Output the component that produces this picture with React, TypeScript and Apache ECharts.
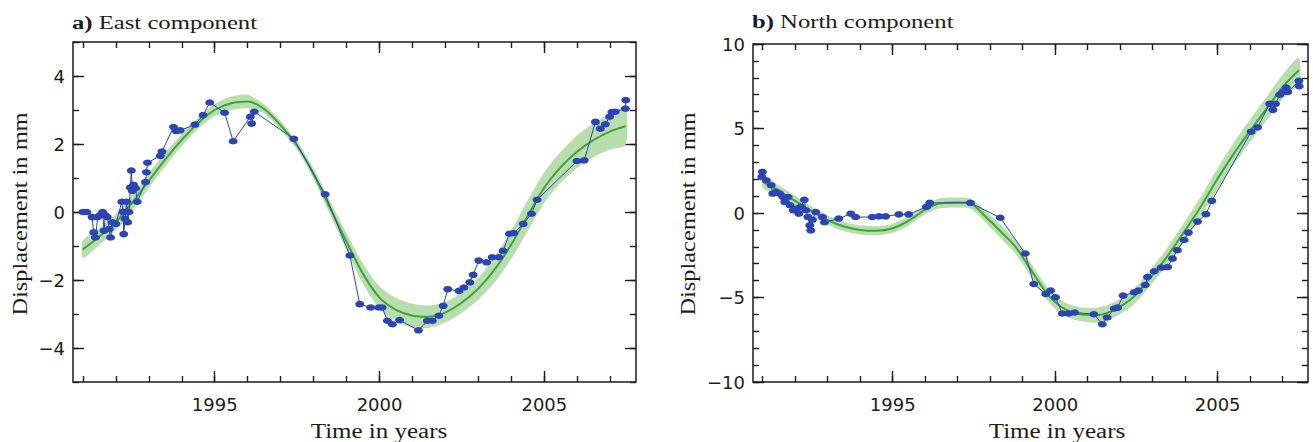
import React, { useEffect, useRef } from 'react';
import * as echarts from 'echarts';

// ---------- data ----------
const eastObsYears = [
  1991.0, 1991.12, 1991.28, 1991.33, 1991.38, 1991.45, 1991.52, 1991.6, 1991.64, 1991.68,
  1991.74, 1991.8, 1991.84, 1991.9, 1992.0, 1992.18, 1992.22, 1992.24, 1992.28, 1992.33,
  1992.36, 1992.4, 1992.44, 1992.47, 1992.5, 1992.54, 1992.6, 1992.65, 1992.9, 1992.93,
  1992.96, 1993.35, 1993.4, 1993.75, 1993.83, 1993.95, 1994.4, 1994.65, 1994.85, 1995.3,
  1995.56, 1996.08, 1996.12, 1996.2, 1997.4, 1998.35, 1999.1, 1999.4, 1999.73, 1999.98,
  2000.08, 2000.24, 2000.39, 2000.61, 2001.18, 2001.45, 2001.6, 2001.8, 2001.93, 2002.07,
  2002.41, 2002.56, 2002.74, 2002.84, 2003.01, 2003.25, 2003.42, 2003.62, 2003.75, 2003.94,
  2004.07, 2004.36, 2004.61, 2004.78, 2005.99, 2006.21, 2006.55, 2006.7, 2006.85, 2006.98,
  2007.05, 2007.15, 2007.46, 2007.47,
];
const eastObsValues = [
  0.0, 0.0, -0.15, -0.6, -0.75, -0.15, -0.1, 0.0, -0.55, -0.1,
  -0.15, -0.5, -0.75, -0.3, -0.35, 0.3, 0.0, -0.65, -0.2, 0.3,
  -0.3, 0.0, 0.72, 1.22, 0.62, 0.8, 0.7, 0.3, 0.88, 1.17,
  1.45, 1.65, 1.78, 2.5, 2.38, 2.4, 2.57, 2.85, 3.22, 2.92,
  2.08, 2.8, 2.6, 2.95, 2.15, 0.52, -1.28, -2.71, -2.81, -2.81,
  -2.81, -3.2, -3.3, -3.18, -3.48, -3.2, -3.2, -3.05, -2.76, -2.27,
  -2.32, -2.22, -2.07, -1.85, -1.43, -1.48, -1.33, -1.33, -1.14, -0.64,
  -0.62, -0.35, -0.05, 0.36, 1.5, 1.52, 2.65, 2.45, 2.58, 2.8,
  2.94, 2.95, 3.04, 3.29,
];
const eastFitYears = [
  1991.0, 1991.5, 1992.0, 1992.5, 1993.0, 1993.5, 1994.0, 1994.5, 1995.0, 1995.5,
  1996.0, 1996.5, 1997.0, 1997.5, 1998.0, 1998.5, 1999.0, 1999.5, 2000.0, 2000.5,
  2001.0, 2001.5, 2002.0, 2002.5, 2003.0, 2003.5, 2004.0, 2004.5, 2005.0, 2005.5,
  2006.0, 2006.5, 2007.0, 2007.46,
];
const eastFitValues = [
  -1.1, -0.72, -0.3, 0.28, 0.92, 1.55, 2.12, 2.62, 3.0, 3.2,
  3.25, 3.03, 2.55, 1.95, 1.12, 0.12, -0.88, -1.82, -2.52, -2.88,
  -3.05, -3.08, -2.95, -2.66, -2.25, -1.68, -0.95, -0.1, 0.72, 1.32,
  1.78, 2.12, 2.37, 2.52,
];
const eastFitHalfWidth = [
  0.26, 0.25, 0.24, 0.23, 0.22, 0.2, 0.18, 0.17, 0.18, 0.2,
  0.2, 0.13, 0.12, 0.12, 0.15, 0.2, 0.25, 0.3, 0.33, 0.35,
  0.35, 0.33, 0.3, 0.3, 0.32, 0.38, 0.42, 0.45, 0.45, 0.46,
  0.48, 0.5, 0.53, 0.55,
];

const northObsYears = [
  1990.97, 1990.99, 1991.11, 1991.26, 1991.31, 1991.42, 1991.52, 1991.62, 1991.68, 1991.78,
  1991.84, 1991.94, 1992.05, 1992.11, 1992.17, 1992.28, 1992.33, 1992.39, 1992.45, 1992.48,
  1992.53, 1992.63, 1992.84, 1992.9, 1993.34, 1993.71, 1993.86, 1994.37, 1994.58, 1994.78,
  1995.19, 1995.49, 1996.04, 1996.14, 1997.39, 1998.31, 1999.08, 1999.34, 1999.71, 1999.86,
  2000.01, 2000.22, 2000.42, 2000.6, 2001.19, 2001.45, 2001.6, 2001.82, 2001.92, 2002.09,
  2002.43, 2002.56, 2002.77, 2002.84, 2003.05, 2003.26, 2003.46, 2003.61, 2003.76, 2003.97,
  2004.1, 2004.38, 2004.64, 2004.82, 2006.03, 2006.23, 2006.6, 2006.7, 2006.78, 2006.91,
  2007.01, 2007.11, 2007.16, 2007.5, 2007.51,
];
const northObsValues = [
  2.14, 2.43, 1.94, 1.64, 1.15, 1.25, 1.15, 0.95, 0.65, 0.95,
  0.46, 0.16, 0.26, -0.04, 0.36, 0.78, 0.16, -0.24, -0.73, -1.03,
  -0.4, 0.06, -0.24, -0.55, -0.33, -0.04, -0.24, -0.24, -0.2, -0.2,
  -0.08, -0.08, 0.36, 0.6, 0.6, -0.28, -2.4, -4.2, -4.79, -4.59,
  -4.99, -5.95, -5.95, -5.89, -5.99, -6.58, -6.18, -5.65, -5.6, -4.89,
  -4.69, -4.59, -4.26, -3.79, -3.45, -3.23, -3.2, -2.7, -2.2, -1.6,
  -1.16, -0.51, -0.07, 0.72, 4.81, 5.07, 6.46, 6.1, 6.46, 7.0,
  7.16, 7.42, 7.16, 7.82, 7.5,
];
const northFitYears = [
  1991.0, 1991.5, 1992.0, 1992.5, 1993.0, 1993.5, 1994.0, 1994.5, 1995.0, 1995.5,
  1996.0, 1996.4, 1997.0, 1997.4, 1997.9, 1998.3, 1998.8, 1999.3, 1999.8, 2000.3,
  2000.8, 2001.35, 2001.85, 2002.4, 2002.9, 2003.4, 2003.9, 2004.45, 2004.95, 2005.45,
  2006.0, 2006.5, 2007.0, 2007.5,
];
const northFitValues = [
  1.85, 1.3, 0.72, 0.12, -0.42, -0.8, -1.0, -1.05, -0.9, -0.45,
  0.2, 0.55, 0.62, 0.55, -0.3, -1.05, -2.05, -3.5, -4.89, -5.69,
  -5.99, -6.03, -5.69, -4.99, -3.89, -2.7, -1.31, 0.28, 1.88, 3.38,
  4.87, 6.16, 7.46, 8.45,
];
const northFitHalfWidth = [
  0.35, 0.33, 0.3, 0.28, 0.27, 0.27, 0.27, 0.27, 0.27, 0.27,
  0.28, 0.3, 0.3, 0.3, 0.35, 0.4, 0.4, 0.4, 0.4, 0.4,
  0.42, 0.45, 0.45, 0.45, 0.47, 0.5, 0.55, 0.6, 0.62, 0.65,
  0.68, 0.7, 0.72, 0.75,
];

const xMajorTicks = [1995, 2000, 2005];
const xMinorTicks = [
  1991, 1992, 1993, 1994, 1995, 1996, 1997, 1998, 1999, 2000,
  2001, 2002, 2003, 2004, 2005, 2006, 2007,
];
const eastYMajorTicks = [-4, -2, 0, 2, 4];
const eastYMinorTicks = [-5, -4, -3, -2, -1, 0, 1, 2, 3, 4, 5];
const northYMajorTicks = [-10, -5, 0, 5, 10];
const northYMinorTicks = [
  -10, -9, -8, -7, -6, -5, -4, -3, -2, -1, 0, 1, 2, 3, 4, 5, 6, 7, 8, 9, 10,
];

const panelTitles = ['a)', 'b)'];
const panelNames = ['East component', 'North component'];
const xAxisName = 'Time in years';
const yAxisName = 'Displacement in mm';

// ---------- styles ----------
const X_MIN = 1990.7;
const X_MAX = 2007.78;
const INK = '#1c1c1c';
const BLUE = '#2b44b6';
const GREEN = '#3fa436';
const BAND = '#b9dead';
const SERIF = '"Liberation Serif", "Times New Roman", serif';
const SANS = '"DejaVu Sans", "Liberation Sans", sans-serif';

const zip = (xs: number[], ys: number[]) => xs.map((x, i) => [x, ys[i]]);
const fmtNum = (v: number) => (v < 0 ? '\u2212' + Math.abs(v) : String(v));

function makeXAxes(gridIndex: number) {
  const base = {
    type: 'value',
    gridIndex,
    min: X_MIN,
    max: X_MAX,
    axisLine: { show: false, onZero: false },
    splitLine: { show: false },
  };
  const tickStyle = { color: INK, width: 1.4 };
  return [
    {
      ...base,
      position: 'bottom',
      axisTick: { show: true, inside: true, length: 11, customValues: xMajorTicks, lineStyle: tickStyle },
      axisLabel: {
        show: true,
        customValues: xMajorTicks,
        margin: 13,
        fontFamily: SANS,
        fontSize: 18,
        color: INK,
        formatter: (v: number) => String(v),
      },
    },
    {
      ...base,
      position: 'bottom',
      axisTick: { show: true, inside: true, length: 6, customValues: xMinorTicks, lineStyle: tickStyle },
      axisLabel: { show: false },
    },
    {
      ...base,
      position: 'top',
      axisTick: { show: true, inside: true, length: 11, customValues: xMajorTicks, lineStyle: tickStyle },
      axisLabel: { show: false },
    },
    {
      ...base,
      position: 'top',
      axisTick: { show: true, inside: true, length: 6, customValues: xMinorTicks, lineStyle: tickStyle },
      axisLabel: { show: false },
    },
  ];
}

function makeYAxes(gridIndex: number, min: number, max: number, major: number[], minor: number[]) {
  const base = {
    type: 'value',
    gridIndex,
    min,
    max,
    axisLine: { show: false, onZero: false },
    splitLine: { show: false },
  };
  const tickStyle = { color: INK, width: 1.4 };
  return [
    {
      ...base,
      position: 'left',
      axisTick: { show: true, inside: true, length: 11, customValues: major, lineStyle: tickStyle },
      axisLabel: {
        show: true,
        customValues: major,
        margin: 8,
        fontFamily: SANS,
        fontSize: 18,
        color: INK,
        formatter: (v: number) => fmtNum(v),
      },
    },
    {
      ...base,
      position: 'left',
      axisTick: { show: true, inside: true, length: 6, customValues: minor, lineStyle: tickStyle },
      axisLabel: { show: false },
    },
    {
      ...base,
      position: 'right',
      axisTick: { show: true, inside: true, length: 11, customValues: major, lineStyle: tickStyle },
      axisLabel: { show: false },
    },
    {
      ...base,
      position: 'right',
      axisTick: { show: true, inside: true, length: 6, customValues: minor, lineStyle: tickStyle },
      axisLabel: { show: false },
    },
  ];
}

function makeSeries(
  axisIndex: number,
  fitYears: number[],
  fitValues: number[],
  half: number[],
  obsYears: number[],
  obsValues: number[],
) {
  const rows = fitYears.map((y, i) => [y, fitValues[i] - half[i], fitValues[i] + half[i]]);
  return [
    {
      type: 'custom',
      xAxisIndex: axisIndex,
      yAxisIndex: axisIndex,
      data: rows,
      encode: { x: 0, y: [1, 2] },
      silent: true,
      clip: true,
      z: 1,
      renderItem: (params: any, api: any) => {
        if (params.dataIndex !== 0) return { type: 'group', children: [] };
        const upper = rows.map((r) => api.coord([r[0], r[2]]));
        const lower = rows.map((r) => api.coord([r[0], r[1]])).reverse();
        return {
          type: 'polygon',
          shape: { points: upper.concat(lower), smooth: 0.25 },
          style: { fill: BAND, stroke: 'none' },
        };
      },
    },
    {
      type: 'line',
      xAxisIndex: axisIndex,
      yAxisIndex: axisIndex,
      data: zip(fitYears, fitValues),
      symbol: 'none',
      smooth: 0.3,
      lineStyle: { color: GREEN, width: 2 },
      z: 2,
    },
    {
      type: 'line',
      xAxisIndex: axisIndex,
      yAxisIndex: axisIndex,
      data: zip(obsYears, obsValues),
      symbol: 'circle',
      symbolSize: [9, 6.5],
      itemStyle: { color: BLUE },
      lineStyle: { color: BLUE, width: 1 },
      z: 3,
    },
  ];
}

function titleText(i: number, x: number, y: number) {
  return {
    type: 'text',
    x,
    y,
    scaleX: 1.3,
    style: {
      text: '{b|' + panelTitles[i] + '} ' + panelNames[i],
      fontFamily: SERIF,
      fontSize: 19,
      fill: INK,
      textAlign: 'left',
      textVerticalAlign: 'middle',
      rich: {
        b: { fontFamily: SERIF, fontSize: 19, fontWeight: 'bold', fill: INK },
      },
    },
  };
}

function xNameText(x: number, y: number) {
  return {
    type: 'text',
    x,
    y,
    scaleX: 1.25,
    style: {
      text: xAxisName,
      fontFamily: SERIF,
      fontSize: 20,
      fill: INK,
      textAlign: 'center',
      textVerticalAlign: 'middle',
    },
  };
}

function yNameText(x: number, y: number) {
  return {
    type: 'text',
    x,
    y,
    rotation: Math.PI / 2,
    scaleX: 1.22,
    style: {
      text: yAxisName,
      fontFamily: SERIF,
      fontSize: 20,
      fill: INK,
      textAlign: 'center',
      textVerticalAlign: 'middle',
    },
  };
}

export default function App() {
  const ref = useRef<HTMLDivElement>(null);

  useEffect(() => {
    if (!ref.current) return;
    const chart = echarts.init(ref.current, undefined, { renderer: 'svg' });
    chart.setOption({
      animation: false,
      backgroundColor: '#ffffff',
      grid: [
        { left: 73, top: 42, width: 563, height: 340, show: true, borderColor: INK, borderWidth: 1.5, backgroundColor: 'transparent' },
        { left: 753, top: 44, width: 555, height: 338, show: true, borderColor: INK, borderWidth: 1.5, backgroundColor: 'transparent' },
      ],
      xAxis: [...makeXAxes(0), ...makeXAxes(1)],
      yAxis: [
        ...makeYAxes(0, -5, 5, eastYMajorTicks, eastYMinorTicks),
        ...makeYAxes(1, -10, 10, northYMajorTicks, northYMinorTicks),
      ],
      series: [
        ...makeSeries(0, eastFitYears, eastFitValues, eastFitHalfWidth, eastObsYears, eastObsValues),
        ...makeSeries(4, northFitYears, northFitValues, northFitHalfWidth, northObsYears, northObsValues),
      ],
      graphic: [
        titleText(0, 72, 23),
        titleText(1, 752, 22),
        xNameText(379, 431),
        xNameText(1057, 431),
        yNameText(20, 214),
        yNameText(688, 214),
      ],
    });
    return () => chart.dispose();
  }, []);

  return (
    <div
      ref={ref}
      style={{ position: 'fixed', left: 0, top: 0, width: 1313, height: 442, background: '#fff' }}
    />
  );
}
